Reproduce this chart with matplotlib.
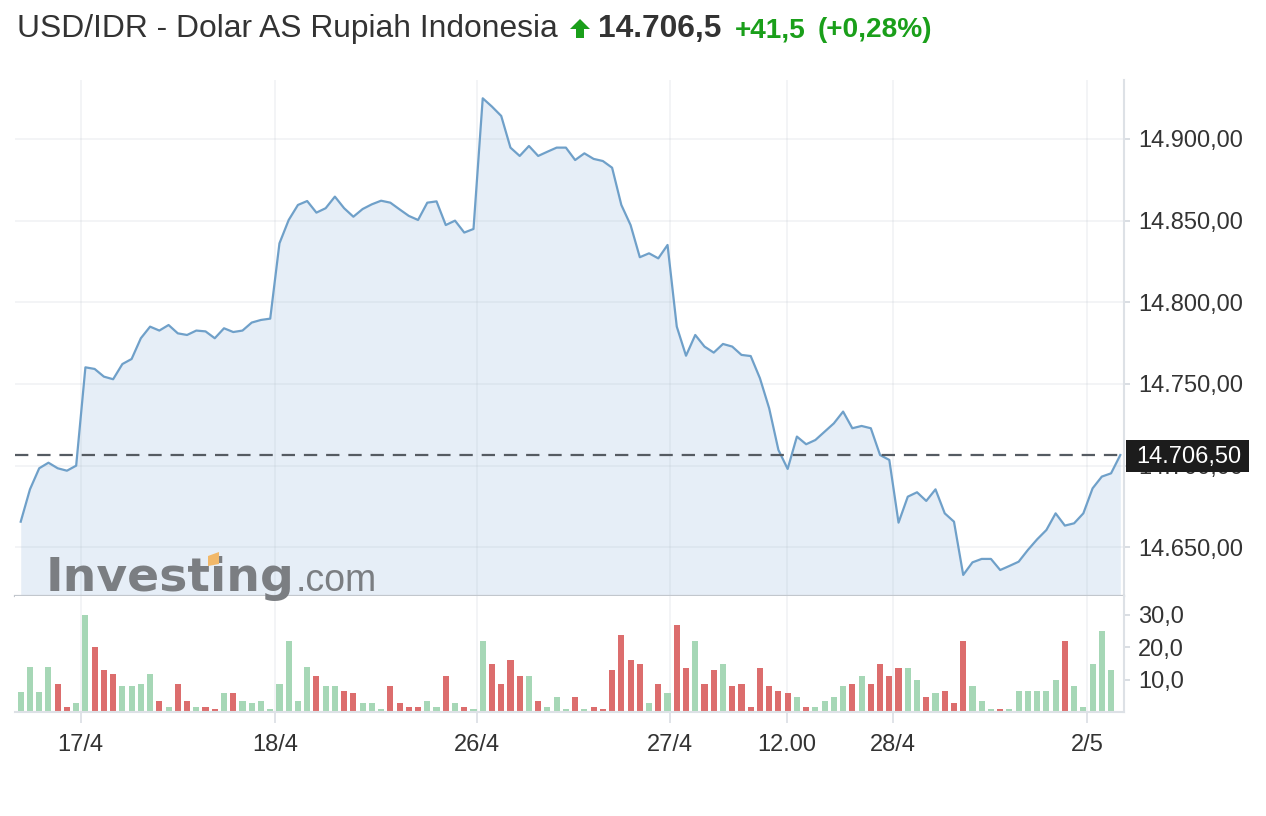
import matplotlib
matplotlib.use("Agg")
import matplotlib.pyplot as plt
import matplotlib.patches as patches
from matplotlib.ticker import FuncFormatter

plt.rcParams['font.family'] = ['Liberation Sans', 'DejaVu Sans']

# --- data ---
price = [14665.7, 14685.5, 14698.4, 14701.8, 14698.4, 14696.9, 14700.0, 14760.2, 14759.2, 14754.5,
         14752.9, 14762.2, 14765.3, 14778.0, 14785.1, 14782.7, 14786.1, 14781.0, 14780.0, 14782.7,
         14782.2, 14778.0, 14784.1, 14781.8, 14782.7, 14787.6, 14789.2, 14790.0, 14836.1, 14850.4,
         14859.6, 14862.0, 14854.9, 14857.6, 14864.7, 14857.6, 14852.4, 14857.1, 14860.0, 14862.2,
         14861.0, 14856.9, 14852.9, 14850.4, 14861.0, 14861.8, 14847.3, 14850.0, 14842.7, 14844.9,
         14924.9, 14919.8, 14914.1, 14894.7, 14889.6, 14895.7, 14889.6, 14892.2, 14894.7, 14894.7,
         14887.1, 14891.2, 14887.8, 14886.5, 14882.4, 14859.6, 14847.3, 14827.6, 14830.0, 14826.9,
         14835.1, 14785.1, 14767.3, 14780.0, 14772.9, 14769.2, 14774.5, 14772.9, 14767.8, 14767.1,
         14753.5, 14735.1, 14709.6, 14698.0, 14717.8, 14713.1, 14715.7, 14720.8, 14725.9, 14733.1,
         14722.9, 14724.3, 14722.9, 14706.5, 14703.5, 14665.1, 14681.0, 14683.7, 14678.4, 14685.5,
         14670.8, 14665.7, 14633.1, 14640.8, 14642.9, 14642.9, 14636.1, 14638.6, 14641.2, 14648.4,
         14654.9, 14660.6, 14670.8, 14663.3, 14664.7, 14670.8, 14686.1, 14693.3, 14695.3, 14706.5]

volume = [6.1, 13.7, 6.1, 13.7, 8.5, 1.6, 2.8, 30.0, 20.0, 12.9,
          11.7, 7.9, 7.9, 8.5, 11.7, 3.5, 1.6, 8.5, 3.5, 1.6,
          1.6, 0.9, 6.0, 6.0, 3.5, 2.8, 3.5, 0.9, 8.5, 21.8,
          3.5, 13.7, 11.0, 7.9, 7.9, 6.6, 6.0, 2.8, 2.8, 0.9,
          7.9, 2.8, 1.6, 1.6, 3.5, 1.6, 11.0, 2.8, 1.6, 0.9,
          21.8, 14.8, 8.5, 16.1, 11.0, 11.0, 3.5, 1.6, 4.7, 0.9,
          4.7, 0.9, 1.6, 0.9, 12.9, 23.7, 16.1, 14.8, 2.8, 8.5,
          6.0, 26.8, 13.6, 21.8, 8.5, 12.9, 14.8, 7.9, 8.5, 1.6,
          13.6, 7.9, 6.6, 6.0, 4.7, 1.6, 1.6, 3.5, 4.7, 7.9,
          8.5, 11.0, 8.5, 14.8, 11.0, 13.6, 13.6, 9.8, 4.7, 6.0,
          6.6, 2.8, 21.8, 7.9, 3.5, 0.9, 0.9, 0.9, 6.6, 6.6,
          6.6, 6.6, 9.8, 21.8, 7.9, 1.6, 14.8, 24.9, 12.9]

# 1 = naik (hijau), 0 = turun (merah)
vol_up = [1, 1, 1, 1, 0, 0, 1, 1, 0, 0,
          0, 1, 1, 1, 1, 0, 1, 0, 0, 1,
          0, 0, 1, 0, 1, 1, 1, 1, 1, 1,
          1, 1, 0, 1, 1, 0, 0, 1, 1, 1,
          0, 0, 0, 0, 1, 1, 0, 1, 0, 1,
          1, 0, 0, 0, 0, 1, 0, 1, 1, 1,
          0, 1, 0, 0, 0, 0, 0, 0, 1, 0,
          1, 0, 0, 1, 0, 0, 1, 0, 0, 0,
          0, 0, 0, 0, 1, 0, 1, 1, 1, 1,
          0, 1, 0, 0, 0, 0, 1, 1, 0, 1,
          0, 0, 0, 1, 1, 1, 0, 1, 1, 1,
          1, 1, 1, 0, 1, 1, 1, 1, 1]

tick_pos = [6.5, 27.5, 49.4, 70.3, 82.9, 94.4, 115.4]
tick_labels = ["17/4", "18/4", "26/4", "27/4", "12.00", "28/4", "2/5"]
price_ticks = [14650, 14700, 14750, 14800, 14850, 14900]
vol_ticks = [10, 20, 30]
last_price = 14706.5

# --- canvas, everything placed in pixels of a 1266x816 picture ---
W, H = 1266, 816
fig = plt.figure(figsize=(W / 100, H / 100), dpi=100)
fig.patch.set_facecolor('white')


def fx(x):
    return x / W


def fy(y):
    return 1 - y / H


TXT = '#333333'
GREEN = '#1a9f1a'

ax = fig.add_axes([fx(15), fy(596), fx(1124) - fx(15), fy(80) - fy(596)])
axv = fig.add_axes([fx(15), fy(712), fx(1124) - fx(15), fy(596) - fy(712)])

xs = list(range(len(price)))
xlim = (-0.62, 119.4)

# price panel
ax.fill_between(xs, price, 14600, color='#e6eef7', lw=0, zorder=1)
ax.plot(xs, price, color='#6fa0c9', lw=1.6, zorder=3)
ax.axhline(last_price, color='#555b62', lw=1.6, dashes=(6, 4), zorder=4)
ax.set_xlim(*xlim)
ax.set_ylim(14620.2, 14936.1)
ax.set_xticks(tick_pos)
ax.set_yticks(price_ticks)
ax.grid(True, color='#a9b3bf', alpha=0.15, lw=1.3, zorder=1.5)
ax.yaxis.tick_right()
ax.yaxis.set_major_formatter(FuncFormatter(
    lambda v, p: f"{v:,.2f}".replace(',', 'X').replace('.', ',').replace('X', '.')))
ax.tick_params(axis='x', length=0, labelbottom=False)
ax.tick_params(axis='y', length=4, width=1.2, color='#d3d8de', pad=6,
               labelsize=17, labelcolor=TXT)
for s in ('top', 'left'):
    ax.spines[s].set_visible(False)
ax.spines['right'].set_color('#dde1e6')
ax.spines['right'].set_linewidth(1.5)
ax.spines['bottom'].set_color('#c2c7cd')
ax.spines['bottom'].set_linewidth(1.6)
ax.spines['bottom'].set_zorder(5)

# volume panel
bar_colors = ['#a6d7b6' if u else '#dc6d6d' for u in vol_up]
axv.bar(range(len(volume)), volume, width=0.66, color=bar_colors, zorder=2)
axv.set_xlim(*xlim)
axv.set_ylim(0, 35.7)
axv.set_xticks(tick_pos)
axv.set_xticklabels(tick_labels)
axv.set_yticks(vol_ticks)
axv.grid(True, axis='x', color='#a9b3bf', alpha=0.15, lw=1.3, zorder=1)
axv.yaxis.tick_right()
axv.yaxis.set_major_formatter(FuncFormatter(lambda v, p: f"{v:.1f}".replace('.', ',')))
axv.tick_params(axis='x', length=8, width=1.3, color='#dde1e6', pad=8,
                labelsize=17, labelcolor=TXT)
axv.tick_params(axis='y', length=4, width=1.2, color='#d3d8de', pad=6,
                labelsize=17, labelcolor=TXT)
for s in ('top', 'left'):
    axv.spines[s].set_visible(False)
for s in ('right', 'bottom'):
    axv.spines[s].set_color('#dde1e6')
    axv.spines[s].set_linewidth(1.5)

# last price tag on the right axis (covers the 14.700,00 label like the original)
fig.patches.append(patches.Rectangle((fx(1126), fy(472)), fx(1249) - fx(1126), fy(440) - fy(472),
                                     transform=fig.transFigure, facecolor='#1c1c1c',
                                     edgecolor='none', zorder=10))
fig.text(fx(1136), fy(456.5), "14.706,50", color='white', fontsize=17,
         va='center', ha='left', zorder=11)

# header
fig.text(fx(17), fy(37), "USD/IDR - Dolar AS Rupiah Indonesia", fontsize=22.9,
         color=TXT, va='baseline', ha='left')
arrow = [(580, 19), (590, 29), (584, 29), (584, 38), (576, 38), (576, 29), (570, 29)]
fig.patches.append(patches.Polygon([(fx(a), fy(b)) for a, b in arrow], closed=True,
                                   transform=fig.transFigure, facecolor=GREEN,
                                   edgecolor='none'))
fig.text(fx(598), fy(37), "14.706,5", fontsize=22.9, fontweight='bold',
         color=TXT, va='baseline', ha='left')
fig.text(fx(735), fy(37), "+41,5", fontsize=20.2, fontweight='bold',
         color=GREEN, va='baseline', ha='left')
fig.text(fx(818), fy(37), "(+0,28%)", fontsize=20.2, fontweight='bold',
         color=GREEN, va='baseline', ha='left')

# watermark
wm = fig.text(fx(46), fy(591), "Investing", family='DejaVu Sans', fontweight='bold',
              fontsize=34, color='#7b7e82', va='baseline', ha='left', zorder=6)
fig.canvas.draw()
wm_right = wm.get_window_extent().x1
fig.text((wm_right + 1) / W, fy(591), ".com", fontsize=27, color='#7b7e82',
         va='baseline', ha='left', zorder=6)
# small orange accent of the logo
accent = [(208, 556), (219, 552), (219, 564), (208, 566)]
fig.patches.append(patches.Polygon([(fx(a), fy(b)) for a, b in accent], closed=True,
                                   transform=fig.transFigure, facecolor='#f2b869',
                                   edgecolor='none', zorder=7))

fig.savefig("out.png", dpi=100, facecolor='white')
